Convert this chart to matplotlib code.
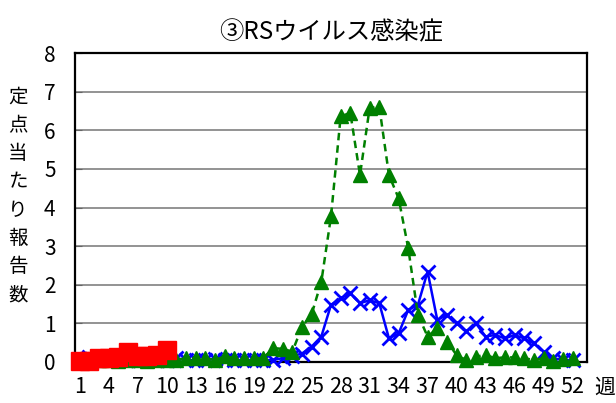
import numpy as np
import matplotlib.pyplot as plt

plt.rcParams['font.family'] = ['Noto Sans CJK JP', 'DejaVu Sans']

weeks = np.arange(1, 53)
tick_weeks = list(range(1, 53, 3))

# this season (weeks 1-10)
red_weeks = np.arange(1, 11)
red_vals = [0.02, 0.03, 0.10, 0.10, 0.12, 0.25, 0.16, 0.16, 0.18, 0.32]

# previous season
green_vals = [0.05, 0.03, 0.05, 0.05, 0.03, 0.05, 0.05, 0.03, 0.05, 0.05,
              0.05, 0.10, 0.10, 0.10, 0.05, 0.15, 0.10, 0.10, 0.10, 0.10,
              0.36, 0.34, 0.27, 0.91, 1.24, 2.08, 3.77, 6.36, 6.45, 4.84,
              6.58, 6.61, 4.84, 4.24, 2.94, 1.22, 0.66, 0.87, 0.53, 0.18,
              0.05, 0.14, 0.18, 0.10, 0.12, 0.12, 0.10, 0.05, 0.10, 0.02,
              0.08, 0.10]

# two seasons ago
blue_vals = [0.08, 0.13, 0.10, 0.08, 0.08, 0.05, 0.05, 0.05, 0.05, 0.05,
             0.10, 0.05, 0.05, 0.05, 0.08, 0.05, 0.05, 0.05, 0.05, 0.05,
             0.05, 0.10, 0.15, 0.22, 0.40, 0.66, 1.48, 1.65, 1.78, 1.52,
             1.60, 1.52, 0.61, 0.74, 1.35, 1.48, 2.34, 1.09, 1.22, 1.00,
             0.79, 1.00, 0.66, 0.70, 0.61, 0.70, 0.61, 0.48, 0.27, 0.10,
             0.05, 0.05]

fig = plt.figure(figsize=(6.16, 4.03), dpi=100)
ax = fig.add_axes([75/616, 1-362/403, 512/616, 309/403])

ax.plot(weeks, blue_vals, color='#0000ff', lw=1.8, marker='x', ms=10, mew=2,
        zorder=3, clip_on=False)
ax.plot(weeks, green_vals, color='#008000', lw=1.8, ls=(0, (3, 2)), marker='^', ms=10.5,
        zorder=4, clip_on=False)
ax.plot(red_weeks, red_vals, color='#ff0000', lw=4, marker='s', ms=13.5,
        zorder=5, clip_on=False)

ax.set_xlim(0.5, 53.5)
ax.set_ylim(0, 8)
ax.set_yticks(range(0, 9))
ax.set_xticks(tick_weeks)
ax.set_xticklabels([str(w) for w in tick_weeks])
ax.yaxis.grid(True, color='#8a8a8a', lw=1.3)
ax.set_axisbelow(True)
for s in ax.spines.values():
    s.set_color('black')
    s.set_linewidth(1.6)
    s.set_zorder(2)
ax.tick_params(axis='y', direction='in', length=5, color='#666666', labelsize=15, pad=14)
ax.tick_params(axis='x', length=0, labelsize=15.5, pad=10)

ax.set_title('③RSウイルス感染症', fontsize=17.5, pad=10)
fig.text(605/616, 1-388/403, '週', fontsize=15, ha='center', va='center')
fig.text(18/616, 1-196/403, '\n'.join('定点当たり報告数'), fontsize=14,
         ha='center', va='center', linespacing=1.45)

fig.savefig('out.png', dpi=100)
